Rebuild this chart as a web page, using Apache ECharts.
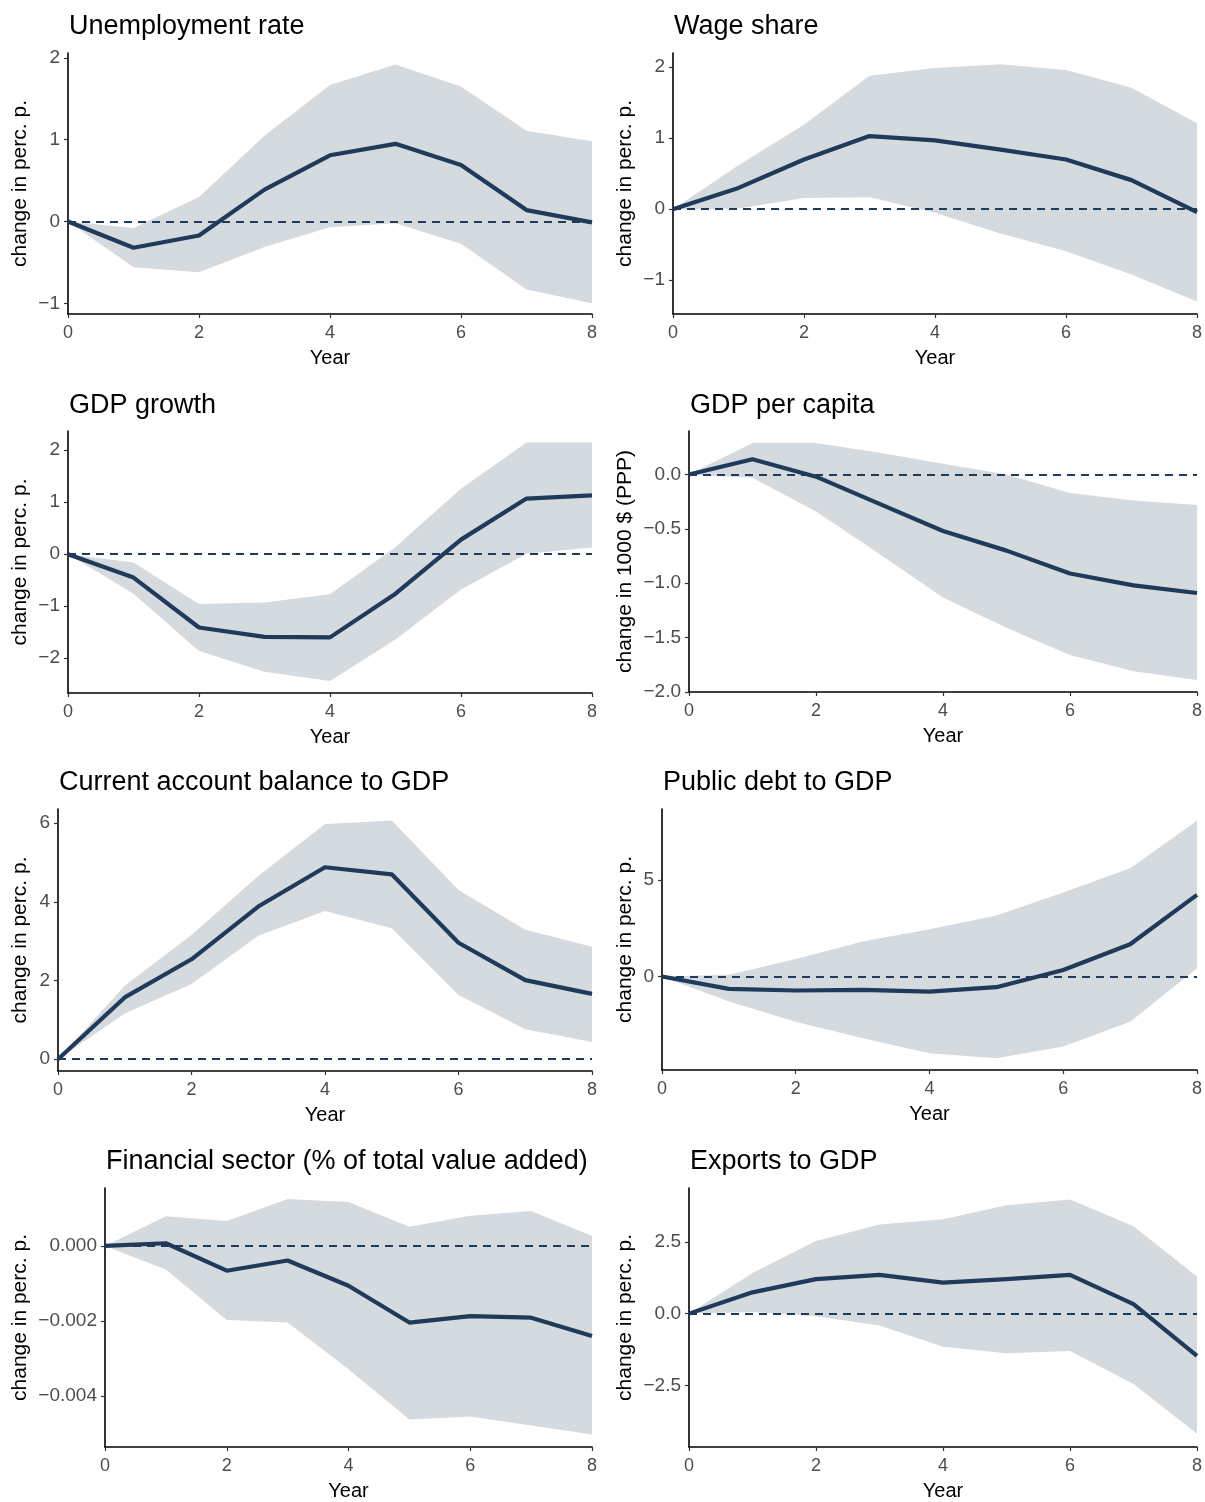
<!DOCTYPE html>
<html>
<head>
<meta charset="utf-8">
<title>Impulse responses</title>
<script src="https://cdn.jsdelivr.net/npm/echarts@6/dist/echarts.min.js"></script>
<style>
  html, body { margin: 0; padding: 0; background: #ffffff; }
  #chart { width: 1205px; height: 1502px; }
</style>
</head>
<body>
<div id="chart"></div>
<script>
// Horizon (years after the shock)
const years = [0, 1, 2, 3, 4, 5, 6, 7, 8];
const xTicks = [0, 2, 4, 6, 8];

// Unemployment rate
const unempMid = [0, -0.32, -0.17, 0.39, 0.81, 0.95, 0.69, 0.14, -0.01];
const unempLo  = [0, -0.56, -0.62, -0.31, -0.07, -0.02, -0.27, -0.83, -1.00];
const unempHi  = [0, -0.08, 0.30, 1.05, 1.67, 1.92, 1.65, 1.11, 0.98];
const unempTicks = [-1, 0, 1, 2];

// Wage share
const wageMid = [0, 0.30, 0.70, 1.03, 0.97, 0.84, 0.70, 0.41, -0.04];
const wageLo  = [0, 0.01, 0.16, 0.17, -0.05, -0.34, -0.59, -0.92, -1.30];
const wageHi  = [0, 0.62, 1.19, 1.88, 1.99, 2.04, 1.96, 1.71, 1.21];
const wageTicks = [-1, 0, 1, 2];

// GDP growth
const growthMid = [0, -0.45, -1.41, -1.59, -1.60, -0.76, 0.28, 1.07, 1.13];
const growthLo  = [0, -0.76, -1.86, -2.26, -2.44, -1.64, -0.68, 0.01, 0.13];
const growthHi  = [0, -0.16, -0.96, -0.93, -0.77, 0.14, 1.26, 2.15, 2.15];
const growthTicks = [-2, -1, 0, 1, 2];

// GDP per capita (1000 $ PPP)
const gdpcMid = [0, 0.14, -0.02, -0.27, -0.52, -0.70, -0.91, -1.02, -1.09];
const gdpcLo  = [0, -0.03, -0.34, -0.73, -1.13, -1.41, -1.66, -1.81, -1.89];
const gdpcHi  = [0, 0.29, 0.29, 0.20, 0.10, 0.00, -0.17, -0.24, -0.28];
const gdpcTicks = [-2.0, -1.5, -1.0, -0.5, 0.0];

// Current account balance to GDP
const caMid = [0, 1.57, 2.54, 3.88, 4.88, 4.70, 2.96, 2.01, 1.66];
const caLo  = [0, 1.16, 1.91, 3.14, 3.77, 3.33, 1.63, 0.76, 0.44];
const caHi  = [0, 1.87, 3.16, 4.66, 5.98, 6.07, 4.30, 3.29, 2.86];
const caTicks = [0, 2, 4, 6];

// Public debt to GDP
const debtMid = [0, -0.64, -0.72, -0.69, -0.78, -0.55, 0.34, 1.67, 4.22];
const debtLo  = [0, -1.29, -2.33, -3.19, -3.97, -4.22, -3.62, -2.33, 0.43];
const debtHi  = [0, 0.09, 0.91, 1.81, 2.45, 3.16, 4.34, 5.60, 8.05];
const debtTicks = [0, 5];

// Financial sector (% of total value added)
const finMid = [0, 0.00007, -0.00066, -0.00039, -0.00106, -0.00204, -0.00187, -0.00191, -0.00240];
const finLo  = [0, -0.00063, -0.00197, -0.00204, -0.00328, -0.00462, -0.00454, -0.00478, -0.00502];
const finHi  = [0, 0.00079, 0.00066, 0.00125, 0.00117, 0.00051, 0.00080, 0.00093, 0.00026];
const finTicks = [-0.004, -0.002, 0.000];

// Exports to GDP
const expMid = [0, 0.74, 1.20, 1.35, 1.08, 1.20, 1.35, 0.33, -1.47];
const expLo  = [0, 0.06, -0.09, -0.41, -1.15, -1.38, -1.30, -2.45, -4.18];
const expHi  = [0, 1.41, 2.53, 3.10, 3.28, 3.77, 3.97, 3.04, 1.29];
const expTicks = [-2.5, 0.0, 2.5];

const titles = [
  'Unemployment rate', 'Wage share', 'GDP growth', 'GDP per capita',
  'Current account balance to GDP', 'Public debt to GDP',
  'Financial sector (% of total value added)', 'Exports to GDP'
];
const yNames = [
  'change in perc. p.', 'change in perc. p.', 'change in perc. p.', 'change in 1000 $ (PPP)',
  'change in perc. p.', 'change in perc. p.', 'change in perc. p.', 'change in perc. p.'
];

const panels = [
  { mid: unempMid,  lo: unempLo,  hi: unempHi,  ticks: unempTicks,  range: [-1.13, 2.06],      dec: 0 },
  { mid: wageMid,   lo: wageLo,   hi: wageHi,   ticks: wageTicks,   range: [-1.475, 2.2],      dec: 0 },
  { mid: growthMid, lo: growthLo, hi: growthHi, ticks: growthTicks, range: [-2.67, 2.37],      dec: 0 },
  { mid: gdpcMid,   lo: gdpcLo,   hi: gdpcHi,   ticks: gdpcTicks,   range: [-2.0, 0.40],       dec: 1 },
  { mid: caMid,     lo: caLo,     hi: caHi,     ticks: caTicks,     range: [-0.30, 6.36],      dec: 0 },
  { mid: debtMid,   lo: debtLo,   hi: debtHi,   ticks: debtTicks,   range: [-4.83, 8.66],      dec: 0 },
  { mid: finMid,    lo: finLo,    hi: finHi,    ticks: finTicks,    range: [-0.00535, 0.00154], dec: 3 },
  { mid: expMid,    lo: expLo,    hi: expHi,    ticks: expTicks,    range: [-4.64, 4.37],      dec: 1 }
];

// Panel boxes (plot area in px) and label placement
const layout = [
  { left: 68,  top: 53,   width: 524, height: 261, nameX: 20,  titleY: 25 },
  { left: 673, top: 53,   width: 524, height: 261, nameX: 625, titleY: 25 },
  { left: 68,  top: 431,  width: 524, height: 262, nameX: 20,  titleY: 404 },
  { left: 689, top: 431,  width: 508, height: 261, nameX: 625, titleY: 404 },
  { left: 58,  top: 809,  width: 534, height: 262, nameX: 20,  titleY: 781 },
  { left: 662, top: 809,  width: 535, height: 261, nameX: 625, titleY: 781 },
  { left: 105, top: 1188, width: 487, height: 260, nameX: 20,  titleY: 1160 },
  { left: 689, top: 1188, width: 508, height: 260, nameX: 625, titleY: 1160 }
];

const LINE = '#1f3a5a';
const BAND = '#d5dadf';
const FONT = '"Liberation Sans", Arial, Helvetica, sans-serif';

function fmt(v, dec) {
  let s = Number(v).toFixed(dec);
  if (Math.abs(v) < 1e-12) s = (0).toFixed(dec);
  return s.replace('-', '\u2212');
}

const grid = [], xAxis = [], yAxis = [], series = [], graphic = [];

panels.forEach(function (p, k) {
  const L = layout[k];
  grid.push({ left: L.left, top: L.top, width: L.width, height: L.height, containLabel: false });

  xAxis.push({
    type: 'value', gridIndex: k, min: 0, max: 8,
    name: 'Year', nameLocation: 'middle', nameGap: 34,
    nameTextStyle: { color: '#000', fontSize: 20, fontFamily: FONT },
    axisLine: { show: true, onZero: false, lineStyle: { color: '#000', width: 1.6 } },
    axisTick: { show: true, length: 4, customValues: xTicks, lineStyle: { color: '#333', width: 1.2 } },
    axisLabel: { customValues: xTicks, margin: 10, color: '#4d4d4d', fontSize: 18, fontFamily: FONT },
    splitLine: { show: false }
  });

  yAxis.push({
    type: 'value', gridIndex: k, min: p.range[0], max: p.range[1],
    name: yNames[k], nameLocation: 'middle', nameRotate: 90,
    nameGap: L.left - L.nameX - 11,
    nameTextStyle: { color: '#000', fontSize: 21, fontFamily: FONT },
    axisLine: { show: true, onZero: false, lineStyle: { color: '#000', width: 1.6 } },
    axisTick: { show: true, length: 4, customValues: p.ticks, lineStyle: { color: '#333', width: 1.2 } },
    axisLabel: {
      customValues: p.ticks, margin: 8, color: '#4d4d4d', fontSize: 19, fontFamily: FONT,
      formatter: (function (d) { return function (v) { return fmt(v, d); }; })(p.dec)
    },
    splitLine: { show: false }
  });

  const bandData = years.map(function (x, i) { return [x, p.lo[i], p.hi[i]]; });
  series.push({
    type: 'custom', xAxisIndex: k, yAxisIndex: k, z: 1, silent: true,
    data: bandData,
    encode: { x: 0, y: [1, 2] },
    renderItem: function (params, api) {
      if (params.dataIndex !== 0) return null;
      const pts = [];
      for (let i = 0; i < years.length; i++) pts.push(api.coord([years[i], p.hi[i]]));
      for (let i = years.length - 1; i >= 0; i--) pts.push(api.coord([years[i], p.lo[i]]));
      return { type: 'polygon', shape: { points: pts }, style: { fill: BAND } };
    },
    markLine: {
      silent: true, symbol: ['none', 'none'], label: { show: false },
      lineStyle: { color: LINE, width: 2, type: [8, 6] },
      data: [{ yAxis: 0 }]
    }
  });

  series.push({
    type: 'line', xAxisIndex: k, yAxisIndex: k, z: 3,
    data: years.map(function (x, i) { return [x, p.mid[i]]; }),
    showSymbol: false, symbol: 'none', silent: true,
    lineStyle: { color: LINE, width: 4.2, cap: 'butt', join: 'round' }
  });

  graphic.push({
    type: 'text', left: L.left + 1, top: L.titleY - 12,
    style: { text: titles[k], fill: '#000', font: '27px ' + FONT }
  });
});

const chart = echarts.init(document.getElementById('chart'), null, { renderer: 'canvas' });
chart.setOption({
  animation: false,
  backgroundColor: '#ffffff',
  grid: grid, xAxis: xAxis, yAxis: yAxis, series: series, graphic: graphic
});
</script>
</body>
</html>
